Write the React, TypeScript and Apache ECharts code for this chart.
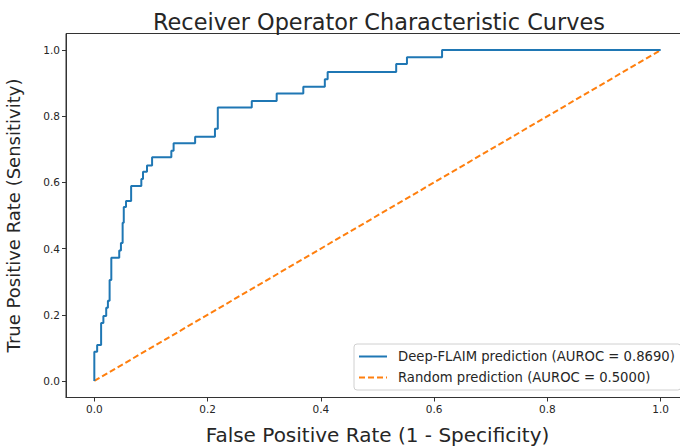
import React, { useEffect, useRef } from "react";
import * as echarts from "echarts";

const fpr = [
  0, 0, 0.005, 0.005, 0.012, 0.012, 0.016, 0.016, 0.021, 0.021, 0.024, 0.024,
  0.027, 0.027, 0.030, 0.030, 0.044, 0.044, 0.047, 0.047, 0.050, 0.050, 0.052,
  0.052, 0.056, 0.056, 0.065, 0.065, 0.083, 0.083, 0.086, 0.086, 0.093, 0.093,
  0.102, 0.102, 0.136, 0.136, 0.140, 0.140, 0.178, 0.178, 0.213, 0.213, 0.218,
  0.218, 0.278, 0.278, 0.322, 0.322, 0.369, 0.369, 0.407, 0.407, 0.412, 0.412,
  0.533, 0.533, 0.552, 0.552, 0.614, 0.614, 1.0,
];
const tpr = [
  0, 0.088, 0.088, 0.109, 0.109, 0.175, 0.175, 0.196, 0.196, 0.221, 0.221,
  0.242, 0.242, 0.305, 0.305, 0.372, 0.372, 0.394, 0.394, 0.417, 0.417, 0.478,
  0.478, 0.526, 0.526, 0.544, 0.544, 0.589, 0.589, 0.610, 0.610, 0.632, 0.632,
  0.651, 0.651, 0.676, 0.676, 0.696, 0.696, 0.718, 0.718, 0.738, 0.738, 0.762,
  0.762, 0.826, 0.826, 0.846, 0.846, 0.869, 0.869, 0.889, 0.889, 0.912, 0.912,
  0.934, 0.934, 0.958, 0.958, 0.978, 0.978, 1.0, 1.0,
];
const randomFpr = [0, 1];
const randomTpr = [0, 1];
const tickValues = [0, 0.2, 0.4, 0.6, 0.8, 1.0];
const seriesNames = [
  "Deep-FLAIM prediction (AUROC = 0.8690)",
  "Random prediction (AUROC = 0.5000)",
];
const titleText = "Receiver Operator Characteristic Curves";
const xName = "False Positive Rate (1 - Specificity)";
const yName = "True Positive Rate (Sensitivity)";

const FONT = "DejaVu Sans";

export default function App() {
  const ref = useRef<HTMLDivElement>(null);
  useEffect(() => {
    if (!ref.current) return;
    const chart = echarts.init(ref.current, undefined, { renderer: "svg" });
    const axisCommon = (name: string, nameGap: number, nameSize: number) => ({
      type: "value" as const,
      min: -0.05,
      max: 1.05,
      name,
      nameLocation: "middle" as const,
      nameGap,
      nameTextStyle: { fontFamily: FONT, fontSize: nameSize, color: "#262626" },
      splitLine: { show: false },
      axisLine: { show: true, onZero: false, lineStyle: { color: "#333", width: 1 } },
      axisTick: {
        show: true,
        length: 4,
        customValues: tickValues,
        lineStyle: { color: "#333" },
      },
      axisLabel: {
        customValues: tickValues,
        formatter: (v: number) => v.toFixed(1),
        fontFamily: FONT,
        fontSize: 10.5,
        color: "#262626",
        margin: 6,
      },
    });
    chart.setOption({
      animation: false,
      backgroundColor: "#ffffff",
      title: {
        text: titleText,
        left: 374,
        top: 6,
        textAlign: "center",
        textStyle: {
          fontFamily: FONT,
          fontSize: 22.4,
          fontWeight: "normal",
          color: "#262626",
        },
      },
      grid: {
        left: 66,
        top: 33.5,
        width: 623,
        height: 364,
        outerBoundsMode: "none",
        containLabel: false,
        show: true,
        borderColor: "#333",
        borderWidth: 1,
        backgroundColor: "transparent",
      },
      xAxis: axisCommon(xName, 27, 20),
      yAxis: axisCommon(yName, 44, 18),
      legend: {
        orient: "vertical",
        left: 354,
        top: 344,
        padding: [6, 6, 6, 4],
        itemGap: 8,
        itemWidth: 28,
        itemHeight: 14,
        backgroundColor: "#ffffff",
        borderColor: "#d0d0d0",
        borderWidth: 1,
        borderRadius: 3,
        itemStyle: { opacity: 0 },
        textStyle: {
          fontFamily: FONT,
          fontSize: 13.2,
          color: "#262626",
          padding: [0, 0, 0, 6],
        },
        data: seriesNames,
      },
      series: [
        {
          name: seriesNames[0],
          type: "line",
          symbol: "none",
          data: fpr.map((x, i) => [x, tpr[i]]),
          lineStyle: { color: "#1f77b4", width: 2 },
          itemStyle: { color: "#1f77b4" },
          z: 3,
        },
        {
          name: seriesNames[1],
          type: "line",
          symbol: "none",
          data: randomFpr.map((x, i) => [x, randomTpr[i]]),
          lineStyle: { color: "#ff7f0e", width: 2, type: [6, 3] },
          itemStyle: { color: "#ff7f0e" },
          z: 2,
        },
      ],
    });
    return () => chart.dispose();
  }, []);
  return (
    <div
      ref={ref}
      style={{ position: "fixed", left: 0, top: 0, width: 680, height: 448 }}
    />
  );
}
